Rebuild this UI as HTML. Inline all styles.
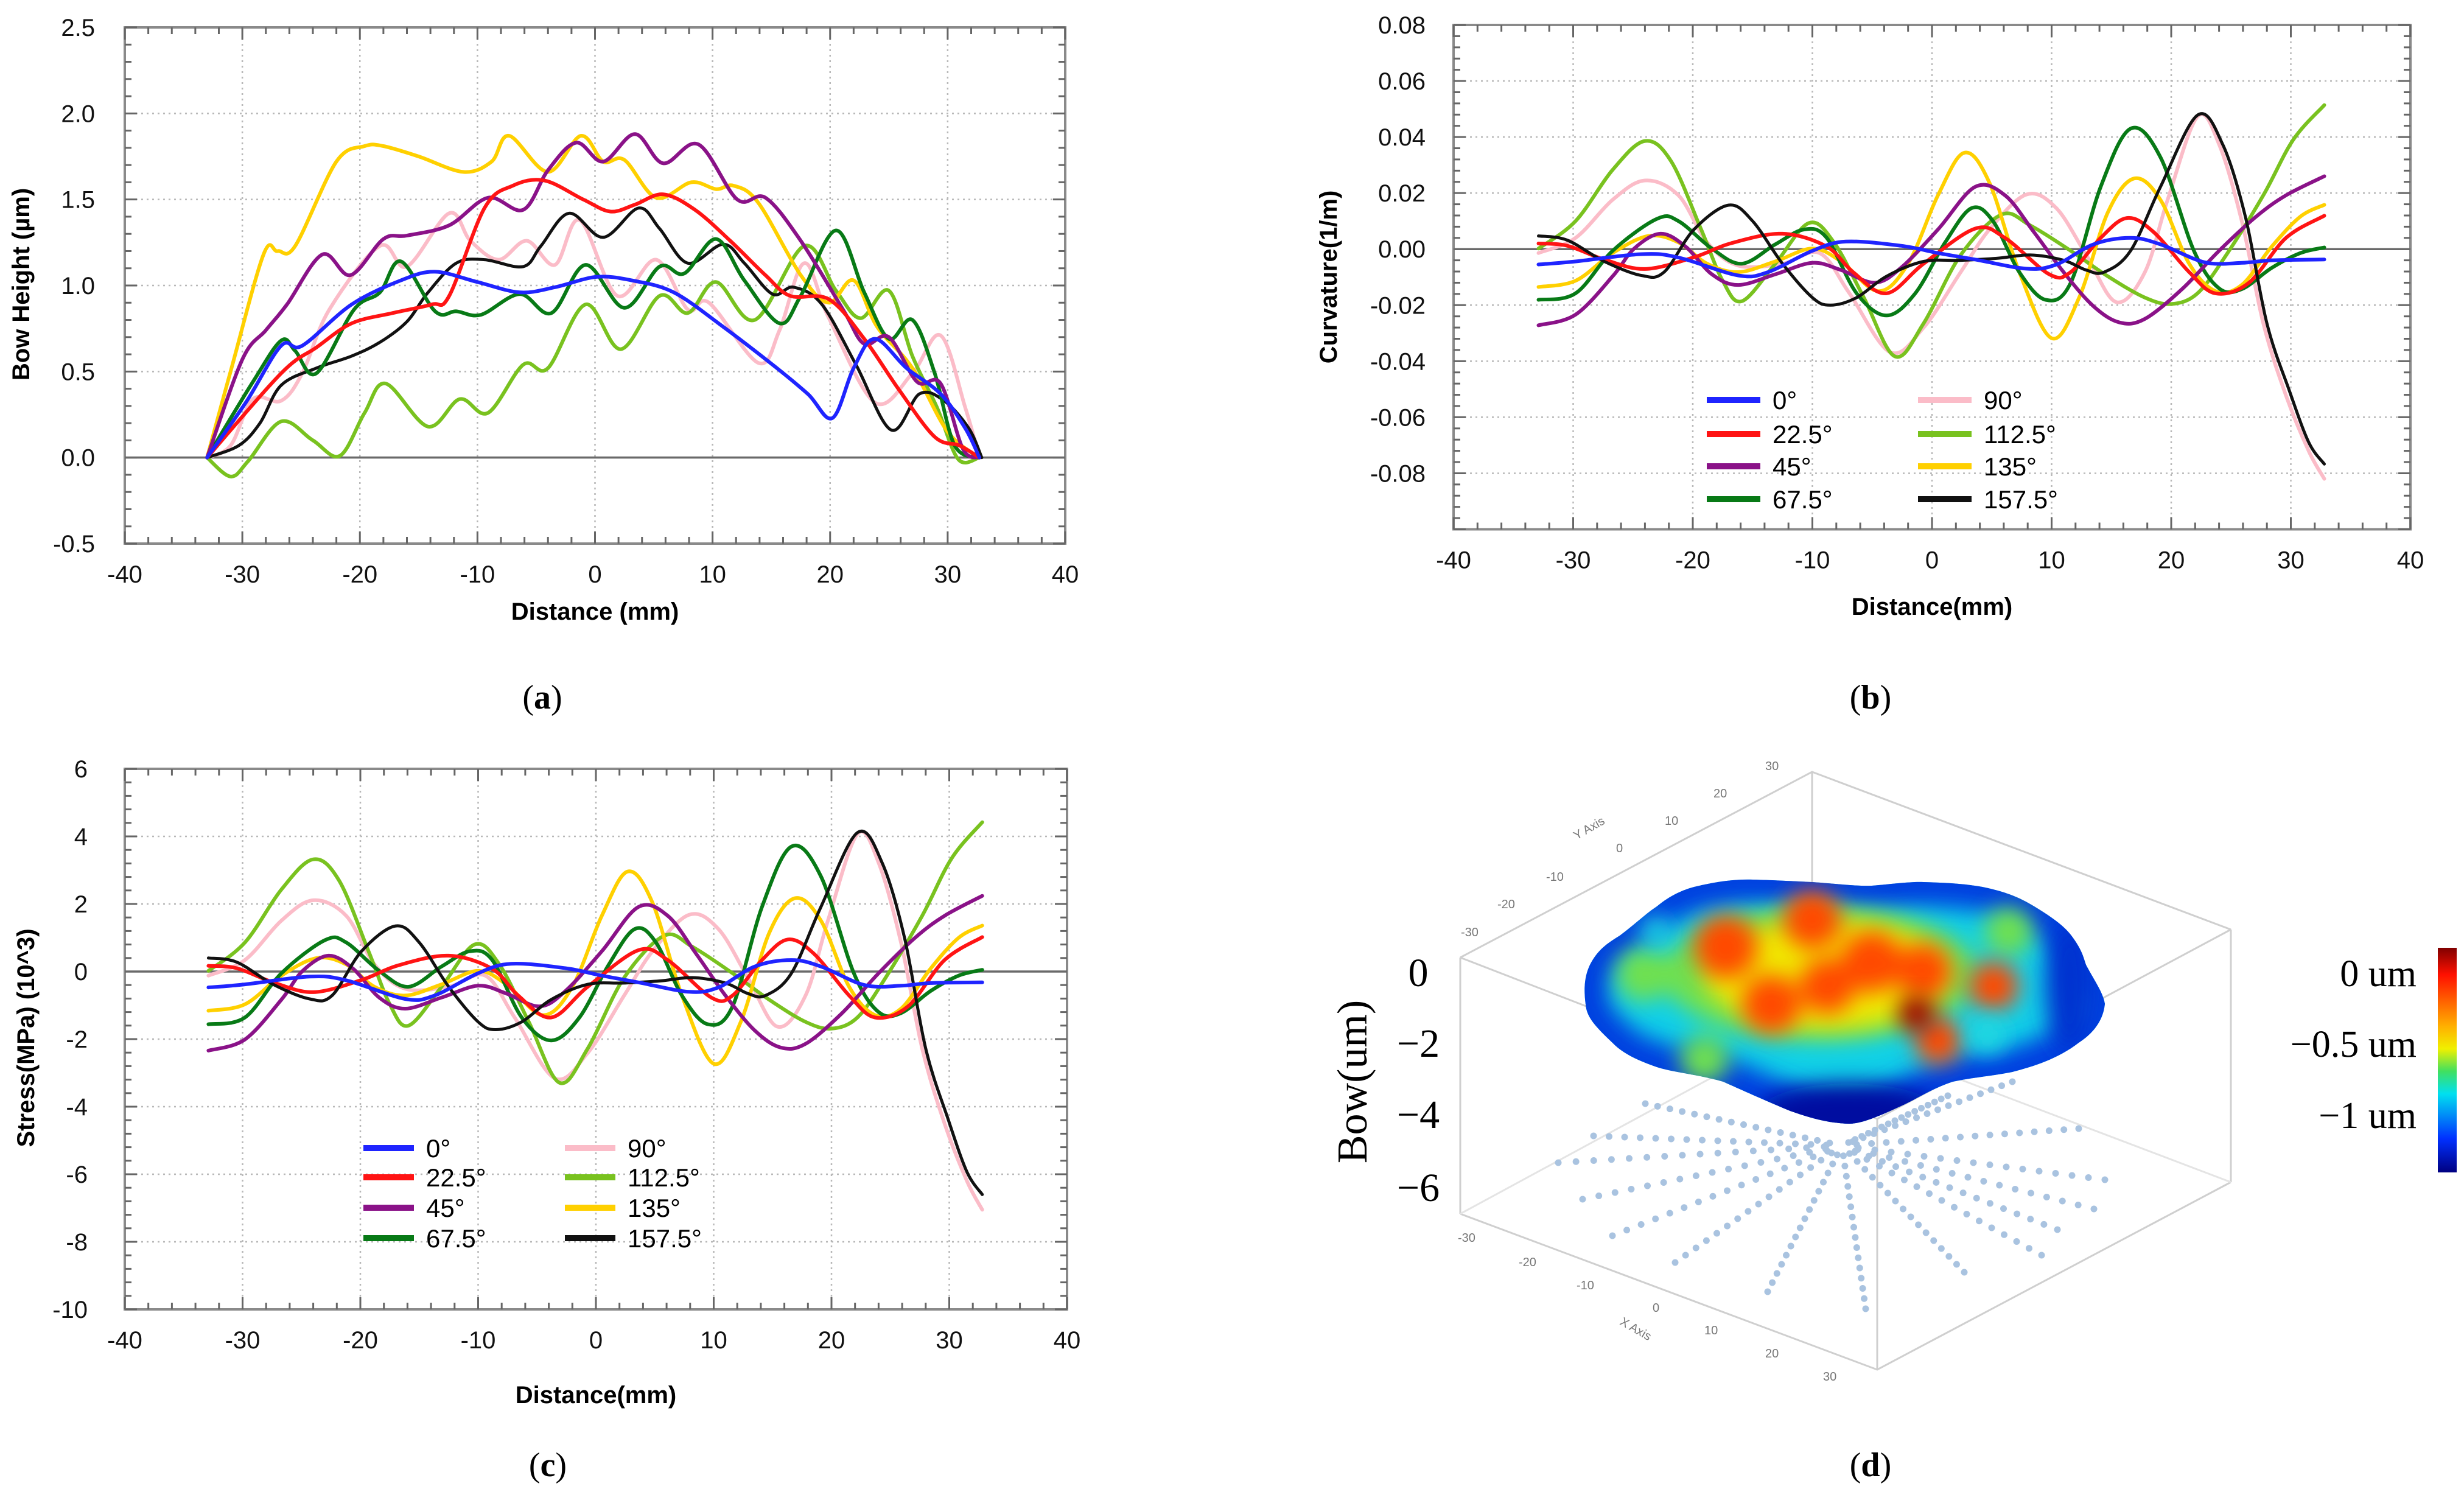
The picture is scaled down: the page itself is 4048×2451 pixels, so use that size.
<!DOCTYPE html>
<html><head><meta charset="utf-8"><style>
html,body{margin:0;padding:0;background:#fff}
svg{display:block}
text{font-family:"Liberation Sans",Arial,sans-serif}
.serif{font-family:"Liberation Serif",serif}
</style></head><body>
<svg id="fig" xmlns="http://www.w3.org/2000/svg" width="4048" height="2451" viewBox="0 0 4048 2451">
<defs>
<filter id="blur" x="-50%" y="-50%" width="200%" height="200%"><feGaussianBlur stdDeviation="18"/></filter>
<filter id="blur2" x="-50%" y="-50%" width="200%" height="200%"><feGaussianBlur stdDeviation="30"/></filter>
<linearGradient id="jet" x1="0" y1="0" x2="0" y2="1">
<stop offset="0" stop-color="#800000"/><stop offset="0.12" stop-color="#ff1000"/><stop offset="0.35" stop-color="#ffb000"/><stop offset="0.45" stop-color="#f0f000"/><stop offset="0.55" stop-color="#40e060"/><stop offset="0.65" stop-color="#00e0f0"/><stop offset="0.85" stop-color="#0030ff"/><stop offset="1" stop-color="#000080"/>
</linearGradient>
<clipPath id="blobclip"><path id="blobpath" d="M2606,1657 C2600,1620 2605,1600 2612,1585 C2625,1560 2640,1550 2661,1537 C2690,1515 2705,1500 2722,1489 C2745,1470 2765,1462 2783,1457 C2820,1448 2850,1444 2880,1445 C2920,1446 2950,1448 2977,1449 C3020,1452 3050,1456 3075,1455 C3110,1452 3140,1448 3160,1449 C3200,1450 3230,1452 3257,1457 C3300,1466 3320,1476 3342,1489 C3370,1506 3390,1520 3403,1537 C3420,1560 3422,1570 3427,1585 C3440,1610 3455,1630 3458,1649 C3455,1680 3435,1700 3415,1713 C3380,1740 3340,1752 3306,1761 C3270,1768 3240,1770 3208,1777 C3170,1790 3150,1805 3123,1817 C3090,1832 3060,1846 3038,1846 C3000,1845 2970,1835 2941,1825 C2900,1808 2860,1790 2831,1777 C2790,1765 2750,1762 2722,1753 C2690,1742 2665,1730 2649,1713 C2625,1690 2610,1675 2606,1657 Z"/></clipPath>
</defs>
<rect width="4048" height="2451" fill="#fff"/>
<g id="charts"></g>

<g id="panel-d">
 <g stroke="#cfcfcf" stroke-width="3" fill="none">
  <polyline points="2399,1573 2977,1268 3665,1527"/>
  <line x1="2399" y1="1573" x2="2399" y2="1994"/>
  <line x1="3665" y1="1527" x2="3665" y2="1942"/>
  <polyline points="2399,1994 3084,2250 3665,1942"/>
  <line x1="2977" y1="1268" x2="2977" y2="1681"/>
  <polyline points="2399,1573 3084,1838 3665,1527"/>
  <line x1="3084" y1="1838" x2="3084" y2="2250"/>
  <polyline points="2399,1994 2977,1681 3665,1942" stroke="#e4e4e4"/>
 </g>
 <g id="dots" fill="#a9c3e0"></g>
 <g>
  <g clip-path="url(#blobclip)">
   <rect x="2550" y="1400" width="950" height="500" fill="#10d0e8"/>
   <use href="#blobpath" fill="none" stroke="#0040e0" stroke-width="80" filter="url(#blur)"/>
   <ellipse cx="3038" cy="1830" rx="150" ry="50" fill="#0010a0" filter="url(#blur)"/>
   <ellipse cx="3400" cy="1620" rx="40" ry="110" fill="#0030d0" filter="url(#blur)"/>
   <g fill="#70e050" filter="url(#blur)">
    <ellipse cx="2990" cy="1600" rx="260" ry="110"/>
    <circle cx="2700" cy="1600" r="45"/><circle cx="3300" cy="1530" r="40"/><circle cx="2800" cy="1740" r="40"/>
   </g>
   <ellipse cx="3000" cy="1600" rx="200" ry="90" fill="#f0e800" filter="url(#blur)"/>
   <g fill="#ff4a00" filter="url(#blur)">
    <circle cx="2835" cy="1555" r="52"/><circle cx="2977" cy="1510" r="48"/><circle cx="3075" cy="1580" r="50"/>
    <circle cx="3160" cy="1595" r="45"/><circle cx="3275" cy="1620" r="40"/><circle cx="2910" cy="1650" r="48"/>
    <circle cx="3002" cy="1620" r="45"/><circle cx="3184" cy="1710" r="38"/>
   </g>
   <circle cx="3148" cy="1665" r="30" fill="#a00000" filter="url(#blur)"/>
   <g fill="#20d8e0" filter="url(#blur)">
    <circle cx="3265" cy="1700" r="30"/><circle cx="2720" cy="1530" r="25"/>
   </g>
  </g>
 </g>
 <g>
  <text class="serif" x="2330" y="1620" text-anchor="middle" font-size="66">0</text>
  <text class="serif" x="2330" y="1736" text-anchor="middle" font-size="66">−2</text>
  <text class="serif" x="2330" y="1853" text-anchor="middle" font-size="66">−4</text>
  <text class="serif" x="2330" y="1973" text-anchor="middle" font-size="66">−6</text>
  <text class="serif" transform="translate(2245,1777) rotate(-90)" text-anchor="middle" font-size="70">Bow(um)</text>
 </g>
 <g fill="#777" font-size="20">
  <text x="2400" y="1538">-30</text><text x="2460" y="1492">-20</text><text x="2540" y="1447">-10</text><text x="2655" y="1400">0</text><text x="2735" y="1355">10</text><text x="2815" y="1310">20</text><text x="2900" y="1265">30</text>
  <text x="2590" y="1380" transform="rotate(-30,2590,1380)">Y Axis</text>
  <text x="2395" y="2040">-30</text><text x="2495" y="2080">-20</text><text x="2590" y="2118">-10</text><text x="2715" y="2155">0</text><text x="2800" y="2192">10</text><text x="2900" y="2230">20</text><text x="2995" y="2268">30</text>
  <text x="2660" y="2175" transform="rotate(30,2660,2175)">X Axis</text>
 </g>
 <rect x="4005" y="1557" width="31" height="369" fill="url(#jet)"/>
 <g text-anchor="end">
  <text class="serif" x="3970" y="1620" font-size="62">0 um</text>
  <text class="serif" x="3970" y="1736" font-size="62">−0.5 um</text>
  <text class="serif" x="3970" y="1853" font-size="62">−1 um</text>
 </g>
</g>

<g font-size="56" text-anchor="middle">
 <text class="serif" x="891" y="1164">(<tspan font-weight="bold">a</tspan>)</text>
 <text class="serif" x="3073" y="1164">(<tspan font-weight="bold">b</tspan>)</text>
 <text class="serif" x="900" y="2425">(<tspan font-weight="bold">c</tspan>)</text>
 <text class="serif" x="3073" y="2425">(<tspan font-weight="bold">d</tspan>)</text>
</g>
</svg>
<script>
const A_x_yellow=[-33,-31,-28.2,-27,-25.5,-22,-19.6,-18,-15,-11.2,-8.8,-7.3,-4,-1.2,0.7,2.5,5.2,8.2,10.3,11.8,13.9,17.5,19.9,22,24,27,30,32.7];
const A_y_yellow=[0,0.5,1.18,1.2,1.23,1.72,1.81,1.81,1.75,1.66,1.72,1.87,1.66,1.87,1.72,1.73,1.51,1.6,1.56,1.58,1.48,1.06,0.9,1.03,0.76,0.52,0.15,0];
const A_x_purple=[-33,-30,-28,-26.2,-23.2,-20.8,-18,-16,-12.4,-9.1,-6.1,-4,-1.6,0.7,3.4,5.8,8.8,12.1,14.5,17.5,21.1,22.9,25,27.4,29.4,31.3,32.7];
const A_y_purple=[0,0.57,0.74,0.89,1.18,1.06,1.27,1.29,1.35,1.51,1.44,1.67,1.83,1.72,1.88,1.71,1.82,1.5,1.51,1.26,0.86,0.66,0.7,0.44,0.43,0.05,0];
const A_x_red=[-33,-26.7,-23.7,-20.7,-17.2,-13.9,-12.4,-9.4,-7,-4.3,-1,1.3,3.4,5.8,8.5,11.5,14.5,16.6,19.9,22.9,25.9,28.9,31,32.7];
const A_y_red=[0,0.49,0.64,0.78,0.84,0.89,0.94,1.45,1.58,1.61,1.5,1.43,1.47,1.53,1.44,1.26,1.06,0.94,0.92,0.69,0.39,0.12,0.07,0];
const A_x_blue=[-33,-29.7,-26.7,-24.9,-20.7,-16.5,-13.6,-10,-6.4,-3.4,0.1,3.1,6.7,10.9,15.1,18.1,20.2,22,23.8,26.5,29.4,31.5,32.7];
const A_y_blue=[0,0.32,0.65,0.65,0.89,1.03,1.08,1.02,0.96,0.99,1.05,1.03,0.96,0.76,0.54,0.37,0.23,0.52,0.69,0.52,0.37,0.17,0];
const A_x_black=[-33,-30.3,-28.5,-26.7,-23.7,-20.7,-18.3,-16,-14.2,-11.8,-9.4,-6.1,-4.6,-2.2,0.7,3.7,5.5,7.9,10.9,12.7,15.1,16.9,19.3,22.2,25.2,27.6,29.7,31.8,32.9];
const A_y_black=[0,0.07,0.2,0.42,0.52,0.59,0.67,0.79,0.96,1.13,1.15,1.11,1.23,1.42,1.28,1.45,1.33,1.13,1.24,1.13,0.95,0.99,0.89,0.54,0.16,0.37,0.33,0.17,0];
const A_x_green=[-33,-29.1,-26.7,-25.5,-23.7,-20.5,-18.3,-16.5,-13.6,-11.8,-9.7,-6.4,-3.7,-0.8,2.5,5.5,7.6,10.3,12.7,15.7,17.5,20.5,22.9,25,27,28.9,30.6,32.7];
const A_y_green=[0,0.44,0.68,0.62,0.49,0.86,0.96,1.14,0.85,0.85,0.83,0.95,0.84,1.12,0.87,1.11,1.07,1.27,1.03,0.78,0.94,1.32,0.96,0.69,0.8,0.49,0.07,0];
const A_x_pink=[-33,-31,-29.1,-26.7,-24.9,-22.6,-18.3,-16,-12.4,-10.6,-8.2,-5.8,-3.4,-1.3,1.9,5.2,7.9,9.7,13.9,15.7,17.8,19.9,23.8,27,29.4,31.5,32.7];
const A_y_pink=[0,0.07,0.34,0.33,0.49,0.86,1.23,1.11,1.42,1.26,1.15,1.26,1.12,1.38,0.94,1.15,0.86,0.9,0.55,0.74,1.13,0.81,0.32,0.49,0.71,0.29,0];
const A_x_lgreen=[-33,-31,-29.5,-26.7,-24,-21.7,-19.6,-17.8,-14.2,-11.5,-9.1,-6.1,-4,-0.8,2.2,5.5,7.9,10.3,13.6,17.8,20.5,22.6,25,27,29.1,30.9,32.7];
const A_y_lgreen=[0,-0.11,-0.02,0.21,0.1,0.01,0.26,0.43,0.18,0.34,0.26,0.54,0.52,0.89,0.63,0.94,0.84,1.02,0.8,1.23,0.97,0.81,0.97,0.59,0.29,-0.01,0];

const B_x_blue=[-32.9,-29.8,-24.3,-21.2,-16.2,-13.7,-10,-7.2,-2.6,0.5,3.6,7.9,10.4,13.5,16.6,19.1,22.8,25.9,28.4,32.8];
const B_y_blue=[-0.0055,-0.0044,-0.0018,-0.003,-0.0094,-0.0082,-0.0006,0.0027,0.0012,-0.0014,-0.0037,-0.007,-0.0055,0.0017,0.004,0.0017,-0.0047,-0.0049,-0.004,-0.0037];
const B_x_red=[-32.9,-30.5,-27.4,-24,-19.9,-16.8,-12.5,-8.8,-6.6,-3.8,-0.7,3.6,6.1,9.8,11.6,14.1,16.3,18.5,21.5,23.7,26.5,29.6,32.8];
const B_y_red=[0.002,0.0012,-0.0037,-0.0071,-0.0029,0.0021,0.0055,0.0009,-0.0082,-0.0158,-0.0052,0.0073,0.004,-0.009,-0.0082,0.004,0.0111,0.0062,-0.0082,-0.0158,-0.012,0.004,0.0119];
const B_x_purple=[-32.9,-29.8,-26.7,-24.9,-22.7,-20.6,-18.4,-16.2,-13.1,-10,-7.6,-4.8,-2.6,0.5,3.6,6.1,8.5,11,13.5,15.7,17.8,20.9,24,27.1,29.6,32.8];
const B_y_purple=[-0.0272,-0.0234,-0.0097,0.0002,0.0055,0.0009,-0.009,-0.0128,-0.009,-0.0049,-0.0075,-0.012,-0.0067,0.007,0.0222,0.0192,0.0062,-0.0082,-0.0204,-0.0262,-0.0249,-0.0143,-0.0006,0.0116,0.0192,0.026];
const B_x_green=[-32.9,-29.8,-26.7,-23,-21.2,-18.4,-15.9,-13.1,-10.7,-8.8,-6.3,-3.8,-1.4,1.1,3.3,5.1,7.3,9.5,11.6,14.1,16.6,19.1,21.9,24,25.9,28.4,30.8,32.8];
const B_y_green=[-0.0181,-0.0158,-0.0006,0.0108,0.01,0.0002,-0.0052,0.0017,0.007,0.004,-0.0158,-0.0237,-0.0158,0.0024,0.0146,0.01,-0.0082,-0.0181,-0.012,0.0222,0.043,0.0328,-0.0006,-0.014,-0.0143,-0.0067,-0.0014,0.0006];
const B_x_pink=[-32.9,-29.8,-26.7,-24,-21.2,-18.8,-16.2,-12.5,-9.4,-6.9,-3.5,-0.7,2.4,4.8,7.9,10.4,12.9,15.4,17.8,19.7,22.2,24,25.9,27.7,29.6,31.5,32.8];
const B_y_pink=[-0.0014,0.004,0.0176,0.0245,0.0192,0.0024,-0.0059,-0.0052,-0.0014,-0.0158,-0.0368,-0.028,-0.0082,0.007,0.0195,0.0146,-0.0021,-0.0189,-0.0082,0.0176,0.0473,0.0374,0.01,-0.0265,-0.0523,-0.0721,-0.082];
const B_x_lgreen=[-32.9,-29.8,-26.7,-24,-21.8,-19.3,-17.5,-15.9,-13.1,-10.3,-8.2,-5.7,-3.1,-0.7,2.4,5.8,8.2,11.6,14.7,17.8,20,22.2,24.6,27.7,30.2,32.8];
const B_y_lgreen=[0.0002,0.01,0.0283,0.0386,0.0313,0.007,-0.0113,-0.0186,-0.0052,0.0093,0.0024,-0.0173,-0.0383,-0.0265,-0.0021,0.0123,0.0085,-0.0006,-0.0097,-0.0173,-0.0196,-0.0158,-0.0021,0.0192,0.039,0.0514];
const B_x_yellow=[-32.9,-29.8,-26.7,-23.7,-21.2,-18.8,-16.2,-13.1,-10,-7.6,-4.5,-2,0.5,2.7,4.8,7.3,10,12.3,14.7,16.9,19.1,21.5,23.7,25.9,28.4,30.8,32.8];
const B_y_yellow=[-0.0135,-0.0113,-0.0014,0.0047,0.0024,-0.0052,-0.0082,-0.0044,0.0002,-0.0044,-0.015,-0.0052,0.0192,0.0344,0.0237,-0.0082,-0.0318,-0.0173,0.0131,0.0252,0.0176,-0.0052,-0.015,-0.0128,0.0009,0.0116,0.0158];
const B_x_black=[-32.9,-30.5,-27.4,-24.3,-22.4,-19.9,-17,-15,-12.5,-10,-8.5,-6.3,-3.8,-0.7,2.4,5.4,8.2,11,12.9,14.4,16.6,19.1,22.2,24.3,26.2,28,29.9,31.5,32.8];
const B_y_black=[0.0047,0.0032,-0.0044,-0.0094,-0.0082,0.007,0.0157,0.01,-0.0052,-0.0173,-0.02,-0.0173,-0.0097,-0.0044,-0.004,-0.0033,-0.0021,-0.004,-0.0075,-0.0082,-0.0006,0.0222,0.0478,0.0374,0.0116,-0.0265,-0.0508,-0.069,-0.0767];

const C_y_blue=[-0.47,-0.38,-0.15,-0.26,-0.81,-0.71,-0.05,0.23,0.10,-0.12,-0.32,-0.60,-0.47,0.15,0.34,0.15,-0.40,-0.42,-0.34,-0.32];
const C_y_red=[0.17,0.10,-0.32,-0.61,-0.25,0.18,0.47,0.08,-0.71,-1.36,-0.45,0.63,0.34,-0.77,-0.71,0.34,0.95,0.53,-0.71,-1.36,-1.03,0.34,1.02];
const C_y_purple=[-2.34,-2.01,-0.83,0.02,0.47,0.08,-0.77,-1.10,-0.77,-0.42,-0.65,-1.03,-0.58,0.60,1.91,1.65,0.53,-0.71,-1.75,-2.25,-2.14,-1.23,-0.05,1.00,1.65,2.24];
const C_y_green=[-1.56,-1.36,-0.05,0.93,0.86,0.02,-0.45,0.15,0.60,0.34,-1.36,-2.04,-1.36,0.21,1.26,0.86,-0.71,-1.56,-1.03,1.91,3.70,2.82,-0.05,-1.20,-1.23,-0.58,-0.12,0.05];
const C_y_pink=[-0.12,0.34,1.51,2.11,1.65,0.21,-0.51,-0.45,-0.12,-1.36,-3.16,-2.41,-0.71,0.60,1.68,1.26,-0.18,-1.63,-0.71,1.51,4.07,3.22,0.86,-2.28,-4.50,-6.20,-7.05];
const C_y_lgreen=[0.02,0.86,2.43,3.32,2.69,0.60,-0.97,-1.60,-0.45,0.80,0.21,-1.49,-3.29,-2.28,-0.18,1.06,0.73,-0.05,-0.83,-1.49,-1.69,-1.36,-0.18,1.65,3.35,4.42];
const C_y_yellow=[-1.16,-0.97,-0.12,0.40,0.21,-0.45,-0.71,-0.38,0.02,-0.38,-1.29,-0.45,1.65,2.96,2.04,-0.71,-2.73,-1.49,1.13,2.17,1.51,-0.45,-1.29,-1.10,0.08,1.00,1.36];
const C_y_black=[0.40,0.28,-0.38,-0.81,-0.71,0.60,1.35,0.86,-0.45,-1.49,-1.72,-1.49,-0.83,-0.38,-0.34,-0.28,-0.18,-0.34,-0.65,-0.71,-0.05,1.91,4.11,3.22,1.00,-2.28,-4.37,-5.93,-6.60];

const legendNames=["0°","22.5°","45°","67.5°","90°","112.5°","135°","157.5°"];
const xTicks=[-40,-30,-20,-10,0,10,20,30,40];
const A_yTicks=[-0.5,0,0.5,1,1.5,2,2.5];
const B_yTicks=[-0.08,-0.06,-0.04,-0.02,0,0.02,0.04,0.06,0.08];
const C_yTicks=[-10,-8,-6,-4,-2,0,2,4,6];

const COL={blue:"#1f24ff",red:"#ff1414",purple:"#8a1288",green:"#087a16",pink:"#fbbcc8",lgreen:"#79c21f",yellow:"#ffd000",black:"#111111"};
const NS="http://www.w3.org/2000/svg";
function el(tag,attrs,parent){const e=document.createElementNS(NS,tag);for(const k in attrs)e.setAttribute(k,attrs[k]);parent.appendChild(e);return e;}
function smooth(pts){let d="M"+pts[0][0].toFixed(1)+","+pts[0][1].toFixed(1);
 for(let i=0;i<pts.length-1;i++){const p0=pts[Math.max(0,i-1)],p1=pts[i],p2=pts[i+1],p3=pts[Math.min(pts.length-1,i+2)];
  const c1=[p1[0]+(p2[0]-p0[0])/6,p1[1]+(p2[1]-p0[1])/6],c2=[p2[0]-(p3[0]-p1[0])/6,p2[1]-(p3[1]-p1[1])/6];
  d+=" C"+c1[0].toFixed(1)+","+c1[1].toFixed(1)+" "+c2[0].toFixed(1)+","+c2[1].toFixed(1)+" "+p2[0].toFixed(1)+","+p2[1].toFixed(1);}
 return d;}

function chart(cfg){
 const root=document.getElementById("charts");
 const g=el("g",{},root);
 
 
 const {L,R,T,B,ymin,ymax}=cfg;
 const sx=v=>L+(v+40)/80*(R-L), sy=v=>B-(v-ymin)/(ymax-ymin)*(B-T);
 const grid=el("g",{stroke:"#b8b8b8","stroke-width":2.5,"stroke-dasharray":"3,6"},g);
 
 
 xTicks.forEach(v=>{if(v>-40&&v<40)el("line",{x1:sx(v),x2:sx(v),y1:T,y2:B},grid);});
 cfg.yTicks.forEach(v=>{if(v>ymin&&v<ymax&&v!==0)el("line",{x1:L,x2:R,y1:sy(v),y2:sy(v)},grid);});
 const fr=el("rect",{x:L,y:T,width:R-L,height:B-T,fill:"none",stroke:"#8a8a8a","stroke-width":4},g);
 
 
 const tk=el("g",{stroke:"#666","stroke-width":3},g);
 
 
 for(let v=-40;v<=40;v+=2){const len=(v%10===0)?20:11;const x=sx(v);
  el("line",{x1:x,x2:x,y1:B,y2:B-len},tk);el("line",{x1:x,x2:x,y1:T,y2:T+len},tk);}
 const ystep=cfg.minor;for(let i=0;;i++){const v=ymin+i*ystep;if(v>ymax+1e-9)break;const major=Math.abs(Math.round(v/cfg.major)*cfg.major-v)<1e-9;const len=major?20:11;const y=sy(v);
  el("line",{x1:L,x2:L+len,y1:y,y2:y},tk);el("line",{x1:R,x2:R-len,y1:y,y2:y},tk);}
 const z=el("line",{x1:L,x2:R,y1:sy(0),y2:sy(0),stroke:"#6a6a6a","stroke-width":3.5},g);
 
 
 const xl=el("g",{"font-size":40,"text-anchor":"middle",fill:"#111"},g);
 
 
 xTicks.forEach(v=>{const t=el("text",{x:sx(v),y:B+cfg.xlabOff},xl);t.textContent=String(v);});
 const yl=el("g",{"font-size":40,"text-anchor":"end",fill:"#111"},g);
 
 
 cfg.yTicks.forEach(v=>{const t=el("text",{x:cfg.ylabX,y:sy(v)+14},yl);t.textContent=cfg.fmt(v);});
 const xt=el("text",{x:(L+R)/2,y:cfg.xTitleY,"font-size":40,"font-weight":"bold","text-anchor":"middle"},g);
 
 
 xt.textContent=cfg.xTitle;
 const yt=el("text",{transform:`translate(${cfg.yTitleX},${cfg.yTitleY}) rotate(-90)`,"font-size":40,"font-weight":"bold","text-anchor":"middle"},g);
 
 
 yt.textContent=cfg.yTitle;
 const sg=el("g",{fill:"none","stroke-width":6,"stroke-linejoin":"round","stroke-linecap":"round"},g);
 
 
 cfg.series.forEach(s=>{
  const pts=s.x.map((xv,i)=>[sx(xv),sy(s.y[i])]);
  const p=el("path",{d:smooth(pts),stroke:COL[s.c],"stroke-width":s.c==="black"?5:6},sg);
  
  
 });
 if(cfg.legend){const lg=el("g",{"font-size":42},g);
  
  
  const lw=cfg.legend;
  const order=["blue","red","purple","green","pink","lgreen","yellow","black"];
  order.forEach((c,i)=>{const col=i<4?0:1,row=i%4;const x0=lw.x[col],y0=lw.y[row];
   const e=el("g",{},lg);
   
   
   el("line",{x1:x0,x2:x0+lw.len,y1:y0,y2:y0,stroke:COL[c],"stroke-width":10},e);
   const t=el("text",{x:x0+lw.len+20,y:y0+15},e);t.textContent=legendNames[i];});
 }
}

chart({name:"bow-height-chart",L:205,R:1750,T:45,B:893,ymin:-0.5,ymax:2.5,yTicks:A_yTicks,major:0.5,minor:0.1,
 fmt:v=>v.toFixed(1),xlabOff:64,ylabX:156,xTitle:"Distance (mm)",xTitleY:1018,yTitle:"Bow Height (µm)",yTitleX:48,yTitleY:467,
 series:[{x:A_x_pink,y:A_y_pink,c:"pink",label:"90°"},{x:A_x_lgreen,y:A_y_lgreen,c:"lgreen",label:"112.5°"},{x:A_x_yellow,y:A_y_yellow,c:"yellow",label:"135°"},{x:A_x_black,y:A_y_black,c:"black",label:"157.5°"},{x:A_x_green,y:A_y_green,c:"green",label:"67.5°"},{x:A_x_purple,y:A_y_purple,c:"purple",label:"45°"},{x:A_x_red,y:A_y_red,c:"red",label:"22.5°"},{x:A_x_blue,y:A_y_blue,c:"blue",label:"0°"}]});

chart({name:"curvature-chart",L:2388,R:3960,T:41,B:869.5,ymin:-0.1,ymax:0.08,yTicks:B_yTicks,major:0.02,minor:0.004,
 fmt:v=>v.toFixed(2),xlabOff:64,ylabX:2342,xTitle:"Distance(mm)",xTitleY:1010,yTitle:"Curvature(1/m)",yTitleX:2196,yTitleY:455,
 legend:{x:[2804,3151],y:[657,713,766,820],len:88},
 series:[{x:B_x_pink,y:B_y_pink,c:"pink",label:"90°"},{x:B_x_lgreen,y:B_y_lgreen,c:"lgreen",label:"112.5°"},{x:B_x_yellow,y:B_y_yellow,c:"yellow",label:"135°"},{x:B_x_green,y:B_y_green,c:"green",label:"67.5°"},{x:B_x_purple,y:B_y_purple,c:"purple",label:"45°"},{x:B_x_red,y:B_y_red,c:"red",label:"22.5°"},{x:B_x_black,y:B_y_black,c:"black",label:"157.5°"},{x:B_x_blue,y:B_y_blue,c:"blue",label:"0°"}]});

chart({name:"stress-chart",L:205,R:1753,T:1263,B:2151,ymin:-10,ymax:6,yTicks:C_yTicks,major:2,minor:0.4,
 fmt:v=>String(v),xlabOff:64,ylabX:144,xTitle:"Distance(mm)",xTitleY:2305,yTitle:"Stress(MPa) (10^3)",yTitleX:56,yTitleY:1705,
 legend:{x:[597,928],y:[1886,1934,1984,2034],len:83},
 series:[{x:B_x_pink,y:C_y_pink,c:"pink",label:"90°"},{x:B_x_lgreen,y:C_y_lgreen,c:"lgreen",label:"112.5°"},{x:B_x_yellow,y:C_y_yellow,c:"yellow",label:"135°"},{x:B_x_green,y:C_y_green,c:"green",label:"67.5°"},{x:B_x_purple,y:C_y_purple,c:"purple",label:"45°"},{x:B_x_red,y:C_y_red,c:"red",label:"22.5°"},{x:B_x_black,y:C_y_black,c:"black",label:"157.5°"},{x:B_x_blue,y:C_y_blue,c:"blue",label:"0°"}]});

const rayEnds=[[2600,1970],[2649,2030],[2752,2074],[2904,2122],[3065,2150],[3227,2090],[3354,2062],[3440,1986],[3458,1938],[3415,1854],[3306,1777],[2703,1813],[2618,1866],[3200,1800],[2560,1910],[3380,2020]];
const dg=document.getElementById("dots");
rayEnds.forEach(e=>{const cx=3026,cy=1882;const n=16;
 for(let i=1;i<=n;i++){const c=el("circle",{cx:cx+(e[0]-cx)*i/n,cy:cy+(e[1]-cy)*i/n,r:5.5},dg);
  
  }});
</script>
</body></html>
